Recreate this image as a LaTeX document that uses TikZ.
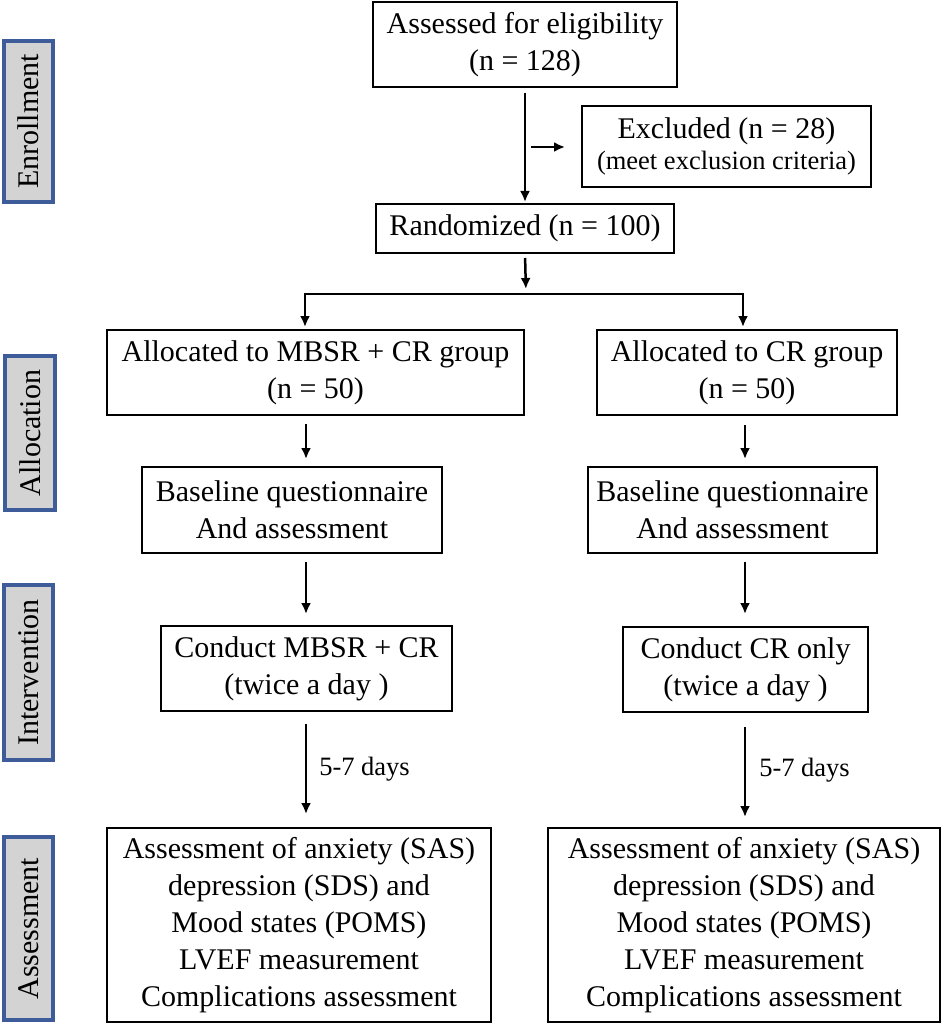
\documentclass[tikz,border=0pt]{standalone}
\usepackage{fontspec}
\setmainfont{Liberation Serif}
\usetikzlibrary{arrows.meta,calc}
\definecolor{sideblue}{HTML}{3D5C99}
\definecolor{sidegray}{HTML}{D3D3D3}
\tikzset{
  box/.style={draw=black, line width=2pt, fill=white, align=center, inner sep=0pt,
    font=\fontsize{30}{37}\selectfont},
  side/.style={draw=sideblue, line width=3.2pt, fill=sidegray, rotate=90, inner sep=0pt,
    font=\fontsize{30}{36}\selectfont},
  arr/.style={line width=2.5pt, -{Latex[length=11pt,width=10pt]}},
  plain/.style={line width=2.5pt},
  lbl/.style={font=\fontsize{26.5}{30}\selectfont, anchor=west, inner sep=0pt}
}
\begin{document}
\begin{tikzpicture}[x=1pt,y=1pt]
\useasboundingbox (0,0) rectangle (945,-1024);
% side labels
\node[side, minimum width=161pt, minimum height=49pt] (enr) at (28.5,-121.5) {Enrollment};
\node[side, minimum width=154pt, minimum height=50pt] (allo) at (30,-433) {Allocation};
\node[side, minimum width=175pt, minimum height=49pt] (inter) at (28.5,-672.5) {Intervention};
\node[side, minimum width=183pt, minimum height=49pt] (asse) at (28.5,-928.5) {Assessment};
% main boxes
\node[box, minimum width=304pt, minimum height=85pt] (elig) at (525,-44.5) {Assessed for eligibility\\(n = 128)};
\node[box, minimum width=289pt, minimum height=81pt] (excl) at (726.5,-146.5) {Excluded (n = 28)\\[-6pt]{\fontsize{26.5}{30}\selectfont (meet exclusion criteria)}};
\node[box, minimum width=298pt, minimum height=49pt] (rand) at (525,-228.5) {Randomized (n = 100)};
\node[box, minimum width=417pt, minimum height=85pt] (allocL) at (315.5,-372.5) {Allocated to MBSR + CR group\\(n = 50)};
\node[box, minimum width=300pt, minimum height=85pt] (allocR) at (747,-372.5) {Allocated to CR group\\(n = 50)};
\node[box, minimum width=300pt, minimum height=86pt] (baseL) at (292,-510) {Baseline questionnaire\\And assessment};
\node[box, minimum width=289pt, minimum height=86pt] (baseR) at (732.5,-510) {Baseline questionnaire\\And assessment};
\node[box, minimum width=291pt, minimum height=85pt] (condL) at (306.5,-668.5) {Conduct MBSR + CR\\(twice a day )};
\node[box, minimum width=245pt, minimum height=85pt] (condR) at (745.5,-669.5) {Conduct CR only\\(twice a day )};
\node[box, minimum width=384pt, minimum height=194pt] (assL) at (299,-925) {Assessment of anxiety (SAS)\\depression (SDS) and\\Mood states (POMS)\\LVEF measurement\\Complications assessment};
\node[box, minimum width=392pt, minimum height=194pt] (assR) at (744,-925) {Assessment of anxiety (SAS)\\depression (SDS) and\\Mood states (POMS)\\LVEF measurement\\Complications assessment};
% helper coordinates
\coordinate (exin) at (531,-147);
\coordinate (split) at (526,-294);
\coordinate (splitL) at (305,-294);
\coordinate (splitR) at (743,-294);
\coordinate (cL) at (306,0);
\coordinate (cR) at (745,0);
% connectors
\draw[arr, shorten <=5pt, shorten >=1pt] (elig.south) -- (rand.north);
\draw[arr, shorten >=16pt] (exin) -- (excl.west |- exin);
\draw[arr, shorten <=4pt, shorten >=5pt] (rand.south) -- (split);
\draw[plain, line cap=rect] (splitL) -- (splitR);
\draw[arr, shorten >=2pt] (splitL) -- (allocL.north -| splitL);
\draw[arr, shorten >=2pt] (splitR) -- (allocR.north -| splitR);
\draw[arr, shorten <=8pt, shorten >=7pt] (allocL.south -| cL) -- (baseL.north -| cL);
\draw[arr, shorten <=8pt, shorten >=11pt] (baseL.south -| cL) -- (condL.north -| cL);
\draw[arr, shorten <=12pt, shorten >=13pt] (condL.south -| cL) -- node[lbl, pos=0.5, xshift=12pt] (dL) {5-7 days} (assL.north -| cL);
\draw[arr, shorten <=9pt, shorten >=7pt] (allocR.south -| cR) -- (baseR.north -| cR);
\draw[arr, shorten <=8pt, shorten >=12pt] (baseR.south -| cR) -- (condR.north -| cR);
\draw[arr, shorten <=14pt, shorten >=10pt] (condR.south -| cR) -- node[lbl, pos=0.5, xshift=13pt] (dR) {5-7 days} (assR.north -| cR);
\end{tikzpicture}
\end{document}
